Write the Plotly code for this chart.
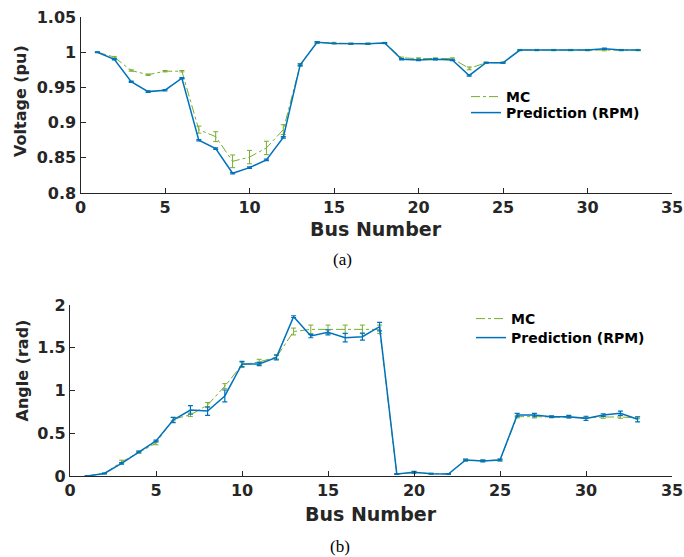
import plotly.graph_objects as go

# Bus indices of the 33-bus feeder
bus = [1, 2, 3, 4, 5, 6, 7, 8, 9, 10, 11, 12, 13, 14, 15, 16, 17,
       18, 19, 20, 21, 22, 23, 24, 25, 26, 27, 28, 29, 30, 31, 32, 33]

# Voltage magnitude (pu): Monte Carlo reference and RPM prediction
v_mc = [1.000, 0.993, 0.974, 0.968, 0.973, 0.973, 0.890, 0.880, 0.845, 0.851,
        0.864, 0.890, 0.982, 1.014, 1.013, 1.012, 1.012, 1.013, 0.992, 0.991,
        0.991, 0.991, 0.977, 0.985, 0.985, 1.003, 1.003, 1.003, 1.003, 1.003,
        1.003, 1.003, 1.003]
v_mc_err = [0.0005, 0.001, 0.001, 0.001, 0.001, 0.001, 0.005, 0.007, 0.009, 0.0095,
            0.0095, 0.007, 0.002, 0.001, 0.001, 0.001, 0.001, 0.001, 0.001, 0.001,
            0.001, 0.001, 0.002, 0.001, 0.001, 0.001, 0.001, 0.001, 0.001, 0.001,
            0.001, 0.001, 0.001]
v_rpm = [1.000, 0.990, 0.958, 0.944, 0.946, 0.963, 0.875, 0.863, 0.828, 0.836,
         0.847, 0.879, 0.982, 1.014, 1.0125, 1.012, 1.012, 1.013, 0.990, 0.989,
         0.990, 0.989, 0.967, 0.985, 0.985, 1.003, 1.003, 1.003, 1.003, 1.003,
         1.005, 1.003, 1.003]
v_rpm_err = [0.0005, 0.0008, 0.001, 0.001, 0.001, 0.001, 0.001, 0.001, 0.001, 0.001,
             0.001, 0.001, 0.001, 0.001, 0.0005, 0.0005, 0.0005, 0.0005, 0.001, 0.001,
             0.001, 0.001, 0.001, 0.0005, 0.0005, 0.0005, 0.0005, 0.0005, 0.0005, 0.0005,
             0.001, 0.0005, 0.0005]

# Voltage angle (rad): Monte Carlo reference and RPM prediction
a_mc = [0.000, 0.030, 0.165, 0.280, 0.385, 0.665, 0.715, 0.830, 1.050, 1.300,
        1.335, 1.390, 1.690, 1.715, 1.715, 1.715, 1.715, 1.715, 0.023, 0.040,
        0.027, 0.023, 0.185, 0.180, 0.187, 0.694, 0.694, 0.690, 0.690, 0.680,
        0.690, 0.690, 0.680]
a_mc_err = [0.005, 0.005, 0.02, 0.01, 0.02, 0.02, 0.02, 0.03, 0.03, 0.03,
            0.03, 0.02, 0.04, 0.05, 0.05, 0.05, 0.05, 0.05, 0.005, 0.005,
            0.005, 0.005, 0.01, 0.01, 0.01, 0.015, 0.015, 0.01, 0.01, 0.01,
            0.015, 0.015, 0.01]
a_rpm = [0.000, 0.030, 0.148, 0.280, 0.410, 0.655, 0.772, 0.760, 0.936, 1.310,
         1.310, 1.388, 1.864, 1.637, 1.680, 1.618, 1.630, 1.747, 0.023, 0.043,
         0.027, 0.023, 0.187, 0.175, 0.187, 0.713, 0.713, 0.694, 0.694, 0.674,
         0.713, 0.733, 0.663]
a_rpm_err = [0.005, 0.005, 0.01, 0.01, 0.01, 0.03, 0.05, 0.05, 0.07, 0.03,
             0.02, 0.03, 0.01, 0.02, 0.03, 0.05, 0.04, 0.05, 0.005, 0.01,
             0.005, 0.005, 0.01, 0.01, 0.01, 0.02, 0.02, 0.01, 0.015, 0.025,
             0.015, 0.025, 0.03]

GREEN = "#77AC30"
BLUE = "#0072BD"
AXIS = "#262626"
FONT = "DejaVu Sans"

W, H = 684, 557


def px_x(p):
    return p / W


def px_y(p):
    return 1 - p / H


fig = go.Figure()


def add_pair(x, mc, mc_err, rpm, rpm_err, xa, ya, leg_mc, leg_rpm):
    fig.add_trace(go.Scatter(
        x=x, y=mc, mode="lines", name="MC", xaxis=xa, yaxis=ya, legend=leg_mc,
        line=dict(color=GREEN, width=1, dash="dashdot"),
        error_y=dict(type="data", array=mc_err, color=GREEN, thickness=1, width=2.5),
    ))
    fig.add_trace(go.Scatter(
        x=x, y=rpm, mode="lines", name="Prediction (RPM)", xaxis=xa, yaxis=ya, legend=leg_rpm,
        line=dict(color=BLUE, width=1.5),
        error_y=dict(type="data", array=rpm_err, color=BLUE, thickness=1.2, width=2.5),
    ))


add_pair(bus, v_mc, v_mc_err, v_rpm, v_rpm_err, "x", "y", "legend", "legend2")
add_pair(bus, a_mc, a_mc_err, a_rpm, a_rpm_err, "x2", "y2", "legend3", "legend4")

axis_common = dict(
    showline=True, linecolor=AXIS, linewidth=1.2, mirror=False,
    ticks="inside", ticklen=5, tickcolor=AXIS, tickwidth=1,
    showgrid=False, zeroline=False, automargin=False,
    tickfont=dict(family=FONT, size=16, color=AXIS, weight="bold"),
)

legend_font = dict(family=FONT, size=14, color="black", weight="bold")


def legend_at(x_px, y_px):
    return dict(x=px_x(x_px), y=px_y(y_px), xanchor="left", yanchor="top",
                bgcolor="rgba(0,0,0,0)", itemwidth=30, font=legend_font)


fig.update_layout(
    width=W, height=H,
    margin=dict(l=0, r=0, t=0, b=0),
    paper_bgcolor="white", plot_bgcolor="white",
    showlegend=True,
    xaxis=dict(domain=[px_x(80.5), px_x(672)], range=[0, 35], dtick=5, anchor="y", **axis_common),
    yaxis=dict(domain=[px_y(193), px_y(17)], range=[0.8, 1.05],
               tickvals=[0.8, 0.85, 0.9, 0.95, 1.0, 1.05],
               ticktext=["0.8", "0.85", "0.9", "0.95", "1", "1.05"],
               anchor="x", **axis_common),
    xaxis2=dict(domain=[px_x(70), px_x(672)], range=[0, 35], dtick=5, anchor="y2", **axis_common),
    yaxis2=dict(domain=[px_y(476), px_y(305)], range=[0, 2],
                tickvals=[0, 0.5, 1, 1.5, 2], ticktext=["0", "0.5", "1", "1.5", "2"],
                anchor="x2", **axis_common),
    legend=legend_at(466, 81),
    legend2=legend_at(466, 97),
    legend3=legend_at(471, 303),
    legend4=legend_at(471, 322),
)

title_font = dict(family=FONT, size=19, color=AXIS, weight="bold")
ytitle_font = dict(family=FONT, size=16, color=AXIS, weight="bold")
cap_font = dict(family="Liberation Serif", size=17, color="black")

annotations = [
    dict(text="Bus Number", x=px_x(376), y=px_y(229), font=title_font),
    dict(text="Bus Number", x=px_x(371), y=px_y(514), font=title_font),
    dict(text="Voltage (pu)", x=px_x(21), y=px_y(101), font=ytitle_font, textangle=-90),
    dict(text="Angle (rad)", x=px_x(21.5), y=px_y(371), font=ytitle_font, textangle=-90),
    dict(text="(a)", x=px_x(342), y=px_y(259), font=cap_font),
    dict(text="(b)", x=px_x(340), y=px_y(546), font=cap_font),
]
for a in annotations:
    fig.add_annotation(xref="paper", yref="paper", showarrow=False,
                       xanchor="center", yanchor="middle", **a)

fig.write_html("out.html")
